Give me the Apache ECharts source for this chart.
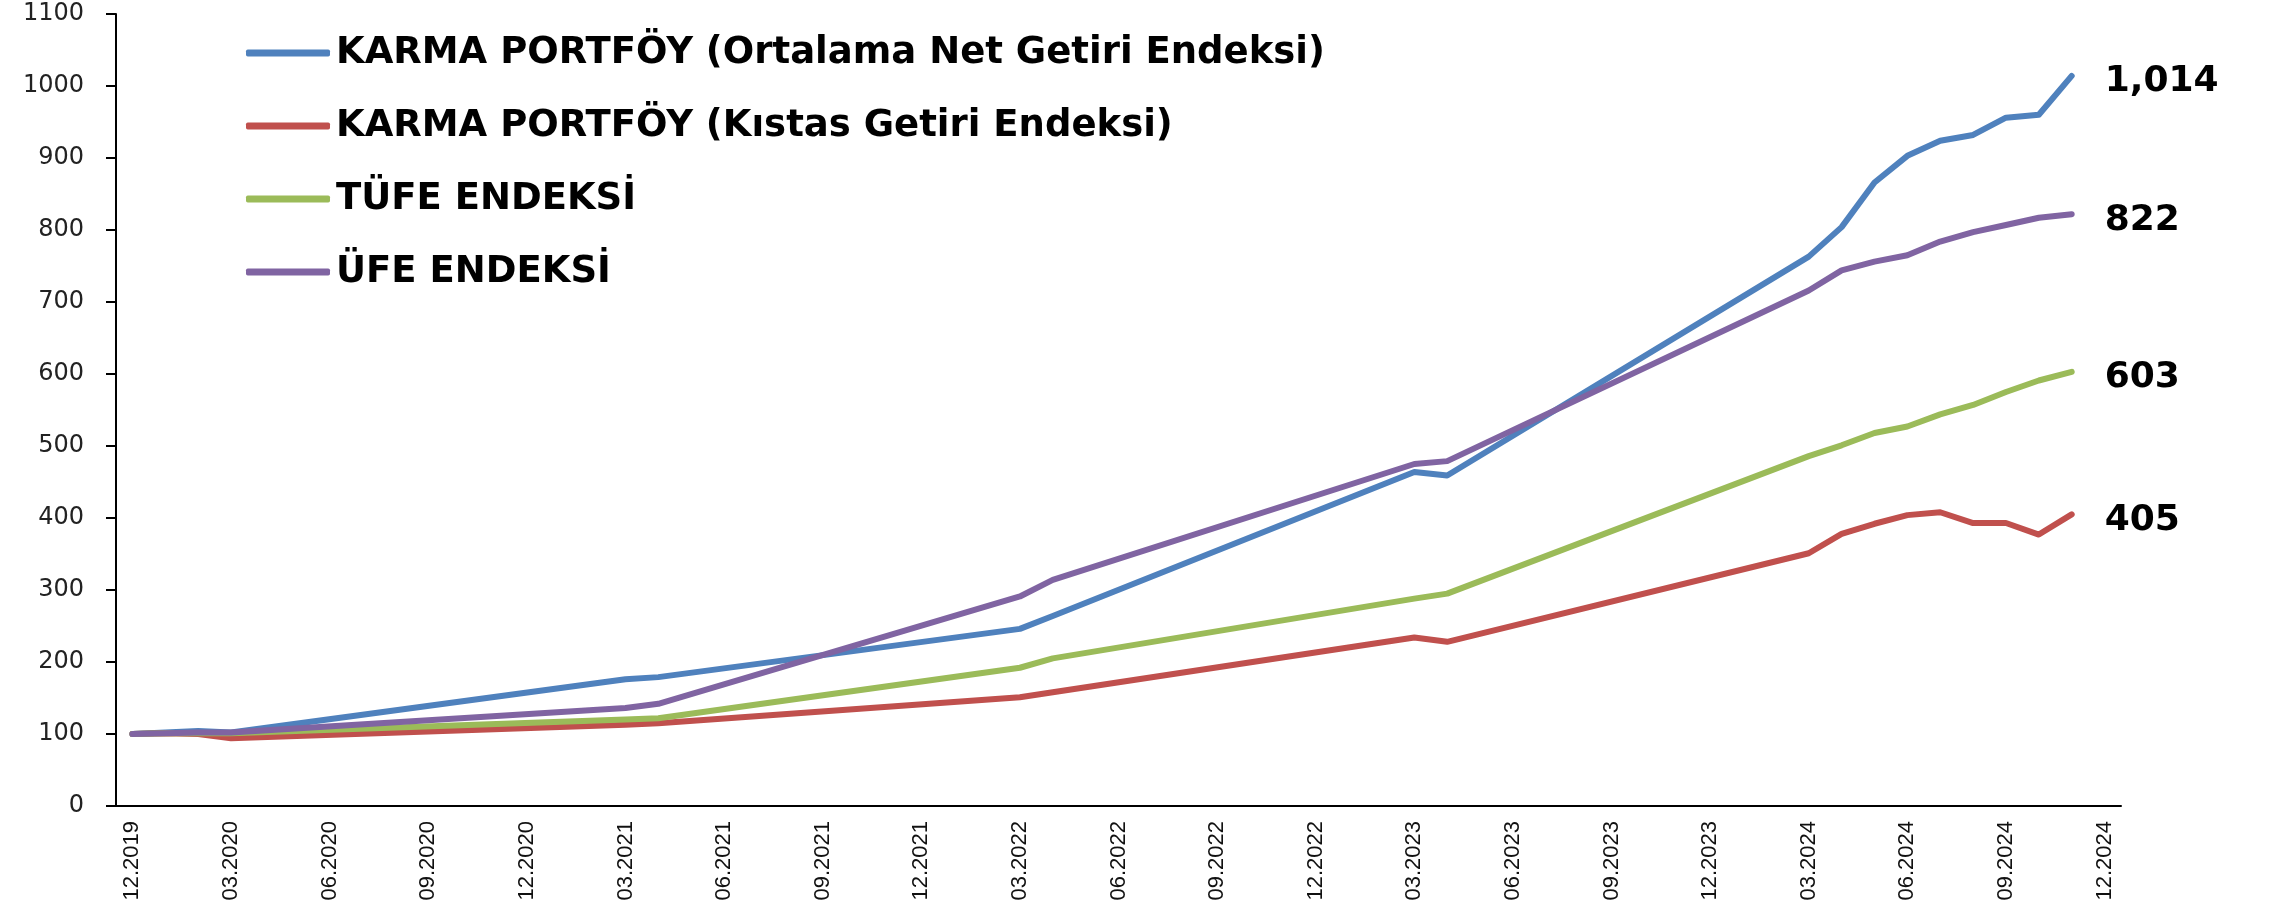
<!DOCTYPE html>
<html><head><meta charset="utf-8">
<script src="https://cdn.jsdelivr.net/npm/echarts@6/dist/echarts.min.js"></script>
<style>html,body{margin:0;padding:0;background:#fff}#c{width:2275px;height:909px}</style>
</head><body><div id="c"></div>
<script>
const categories = [
  '12.2019','01.2020','02.2020','03.2020','04.2020','05.2020','06.2020','07.2020','08.2020','09.2020','10.2020','11.2020','12.2020',
  '01.2021','02.2021','03.2021','04.2021','05.2021','06.2021','07.2021','08.2021','09.2021','10.2021','11.2021','12.2021',
  '01.2022','02.2022','03.2022','04.2022','05.2022','06.2022','07.2022','08.2022','09.2022','10.2022','11.2022','12.2022',
  '01.2023','02.2023','03.2023','04.2023','05.2023','06.2023','07.2023','08.2023','09.2023','10.2023','11.2023','12.2023',
  '01.2024','02.2024','03.2024','04.2024','05.2024','06.2024','07.2024','08.2024','09.2024','10.2024','11.2024','12.2024'
];
const seriesNames = [
  'KARMA PORTFÖY (Ortalama Net Getiri Endeksi)',
  'KARMA PORTFÖY (Kıstas Getiri Endeksi)',
  'TÜFE ENDEKSİ',
  'ÜFE ENDEKSİ'
];
const _ = null;
// values by month, 12.2019 ... 11.2024 (null = no observation, line connects across)
const netReturnIndex = [100,102,104,102, _,_,_,_,_,_,_,_,_,_,_, 176,179, _,_,_,_,_,_,_,_,_,_, 246,264, _,_,_,_,_,_,_,_,_,_, 464,459, _,_,_,_,_,_,_,_,_,_, 763,804,866,903,924,932,956,960,1014];
const benchmarkIndex = [100,101,100,94, _,_,_,_,_,_,_,_,_,_,_, 113,115, _,_,_,_,_,_,_,_,_,_, 151,158, _,_,_,_,_,_,_,_,_,_, 234,228, _,_,_,_,_,_,_,_,_,_, 351,378,392,404,408,393,393,377,405];
const cpiIndex = [100,101,101,101, _,_,_,_,_,_,_,_,_,_,_, 120,122, _,_,_,_,_,_,_,_,_,_, 192,205, _,_,_,_,_,_,_,_,_,_, 288,295, _,_,_,_,_,_,_,_,_,_, 486,501,518,527,544,557,575,591,603];
const ppiIndex = [100,101,102,102, _,_,_,_,_,_,_,_,_,_,_, 136,142, _,_,_,_,_,_,_,_,_,_, 291,314, _,_,_,_,_,_,_,_,_,_, 475,479, _,_,_,_,_,_,_,_,_,_, 716,744,756,765,784,797,807,817,822];
const colors = ['#4F81BD','#C0504D','#9BBB59','#8064A2'];
const yTicks = {min: 0, max: 1100, interval: 100};

const chart = echarts.init(document.getElementById('c'), null, {renderer: 'canvas'});
const values = [netReturnIndex, benchmarkIndex, cpiIndex, ppiIndex];
chart.setOption({
  animation: false,
  backgroundColor: '#ffffff',
  grid: {left: 116, right: 154, top: 14, bottom: 103, containLabel: false},
  legend: {
    orient: 'vertical', left: 246, top: 33, padding: 0,
    icon: 'roundRect', itemWidth: 84, itemHeight: 7, itemGap: 33,
    textStyle: {fontFamily: 'DejaVu Sans', fontWeight: 'bold', fontSize: 37, lineHeight: 40, color: '#000', padding: [0,0,0,1]},
    data: seriesNames
  },
  xAxis: {
    type: 'category', data: categories, boundaryGap: true,
    axisLine: {lineStyle: {color: '#000', width: 2}},
    axisTick: {interval: 2, length: 8, lineStyle: {color: '#000', width: 2}},
    axisLabel: {interval: 2, rotate: 90, margin: 15, fontFamily: 'Liberation Sans', fontSize: 22, color: '#111'},
    splitLine: {show: false}
  },
  yAxis: {
    type: 'value', min: yTicks.min, max: yTicks.max, interval: yTicks.interval,
    axisLine: {show: true, lineStyle: {color: '#000', width: 2}},
    axisTick: {show: true, length: 10, lineStyle: {color: '#000', width: 2}},
    axisLabel: {margin: 32, fontFamily: 'DejaVu Sans', fontSize: 24, color: '#222', formatter: v => String(v)},
    splitLine: {show: false}
  },
  series: seriesNames.map((n, i) => ({
    name: n, type: 'line', data: values[i], connectNulls: true,
    symbol: 'none', color: colors[i],
    lineStyle: {width: 6, color: colors[i], cap: 'round', join: 'round'},
    endLabel: {
      show: true, distance: 33, offset: [0, 6],
      formatter: p => Number(p.value).toLocaleString('en-US'),
      fontFamily: 'DejaVu Sans', fontWeight: 'bold', fontSize: 36, color: '#000'
    }
  }))
});
</script></body></html>
